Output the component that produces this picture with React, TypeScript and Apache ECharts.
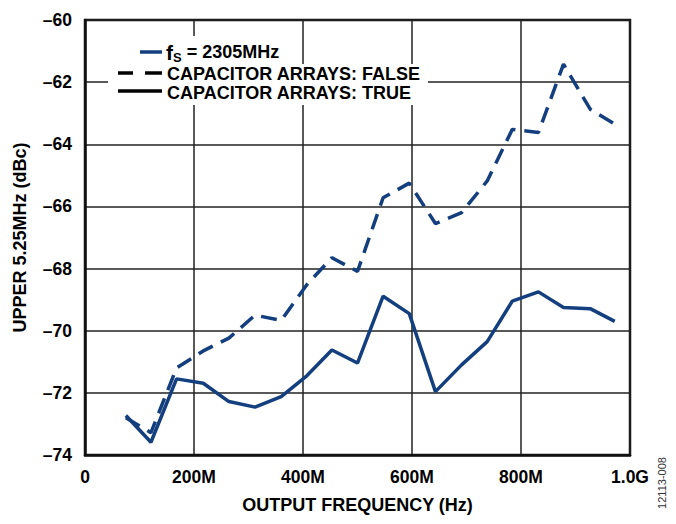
import React, { useEffect, useRef } from "react";
import * as echarts from "echarts";

const freqs = [75, 121, 168, 217, 264, 312, 360, 407, 453, 500, 547, 595, 643, 691, 738, 784, 832, 878, 927, 972];
const capFalse = [-72.8, -73.28, -71.2, -70.65, -70.24, -69.5, -69.67, -68.52, -67.65, -68.09, -65.72, -65.25, -66.55, -66.2, -65.18, -63.52, -63.62, -61.42, -62.87, -63.35];
const capTrue = [-72.73, -73.59, -71.55, -71.69, -72.28, -72.46, -72.12, -71.45, -70.62, -71.04, -68.89, -69.45, -71.96, -71.1, -70.35, -69.05, -68.75, -69.25, -69.29, -69.7];
const xTickLabels: Record<number, string> = { 0: "0", 200: "200M", 400: "400M", 600: "600M", 800: "800M", 1000: "1.0G" };
const legendFs = "2305MHz";
const legendFalse = "CAPACITOR ARRAYS: FALSE";
const legendTrue = "CAPACITOR ARRAYS: TRUE";

const NAVY = "#143f7e";
const FONT = "'Liberation Sans', Arial, sans-serif";

export default function App() {
  const ref = useRef<HTMLDivElement>(null);
  useEffect(() => {
    if (!ref.current) return;
    const chart = echarts.init(ref.current, null, { renderer: "svg" });
    const pair = (ys: number[]) => freqs.map((f, i) => [f, ys[i]]);
    chart.setOption({
      animation: false,
      backgroundColor: "#fff",
      grid: { left: 85, right: 46, top: 20, bottom: 69, show: true, borderColor: "#111", borderWidth: 2.5 },
      xAxis: {
        type: "value",
        min: 0,
        max: 1000,
        interval: 200,
        name: "OUTPUT FREQUENCY (Hz)",
        nameLocation: "middle",
        nameGap: 41,
        nameTextStyle: { fontFamily: FONT, fontWeight: "bold", fontSize: 18, color: "#000" },
        axisLine: { show: true, lineStyle: { color: "#111", width: 2.5 } },
        axisTick: { show: false },
        axisLabel: {
          margin: 13,
          fontFamily: FONT,
          fontWeight: "bold",
          fontSize: 17.5,
          color: "#000",
          formatter: (v: number) => xTickLabels[v] ?? "",
        },
        splitLine: { show: true, lineStyle: { color: "#222", width: 1.5 } },
      },
      yAxis: {
        type: "value",
        min: -74,
        max: -60,
        interval: 2,
        name: "UPPER 5.25MHz (dBc)",
        nameLocation: "middle",
        nameGap: 56,
        nameTextStyle: { fontFamily: FONT, fontWeight: "bold", fontSize: 18, color: "#000" },
        axisLine: { show: true, lineStyle: { color: "#111", width: 2.5 } },
        axisTick: { show: false },
        axisLabel: {
          margin: 13,
          fontFamily: FONT,
          fontWeight: "bold",
          fontSize: 17.5,
          color: "#000",
          formatter: (v: number) => String(v).replace("-", "\u2013"),
        },
        splitLine: { show: true, lineStyle: { color: "#222", width: 1.5 } },
      },
      series: [
        {
          type: "line",
          name: legendFalse,
          data: pair(capFalse),
          showSymbol: false,
          symbol: "none",
          lineStyle: { color: NAVY, width: 3.5, type: [16, 9] },
          z: 3,
        },
        {
          type: "line",
          name: legendTrue,
          data: pair(capTrue),
          showSymbol: false,
          symbol: "none",
          lineStyle: { color: NAVY, width: 3.5, type: "solid" },
          z: 3,
        },
      ],
      graphic: [
        { type: "rect", z: 100, shape: { x: 108, y: 36, width: 180, height: 28 }, style: { fill: "#fff" } },
        { type: "rect", z: 100, shape: { x: 108, y: 64, width: 320, height: 19 }, style: { fill: "#fff" } },
        { type: "rect", z: 100, shape: { x: 108, y: 83, width: 320, height: 22 }, style: { fill: "#fff" } },
        { type: "line", z: 101, shape: { x1: 140, y1: 52, x2: 162, y2: 52 }, style: { stroke: NAVY, lineWidth: 3.5 } },
        { type: "line", z: 101, shape: { x1: 118, y1: 73, x2: 133, y2: 73 }, style: { stroke: "#000", lineWidth: 3.5 } },
        { type: "line", z: 101, shape: { x1: 145, y1: 73, x2: 162, y2: 73 }, style: { stroke: "#000", lineWidth: 3.5 } },
        { type: "line", z: 101, shape: { x1: 118, y1: 91, x2: 162, y2: 91 }, style: { stroke: "#000", lineWidth: 3.5 } },
        {
          type: "text",
          z: 102,
          x: 166,
          y: 52,
          style: {
            text: "{f|f}{s|S}{t| = " + legendFs + "}",
            verticalAlign: "middle",
            align: "left",
            rich: {
              f: { fontFamily: FONT, fontWeight: "bold", fontSize: 21, fill: "#000", verticalAlign: "middle" },
              s: { fontFamily: FONT, fontWeight: "bold", fontSize: 13, fill: "#000", padding: [11, 0, 0, 0], verticalAlign: "middle" },
              t: { fontFamily: FONT, fontWeight: "bold", fontSize: 18, fill: "#000", verticalAlign: "middle" },
            },
          },
        },
        {
          type: "text",
          z: 102,
          x: 167,
          y: 74,
          style: { text: legendFalse, fontFamily: FONT, fontWeight: "bold", fontSize: 18, fill: "#000", verticalAlign: "middle", align: "left" },
        },
        {
          type: "text",
          z: 102,
          x: 167,
          y: 93,
          style: { text: legendTrue, fontFamily: FONT, fontWeight: "bold", fontSize: 18, fill: "#000", verticalAlign: "middle", align: "left" },
        },
        {
          type: "text",
          z: 102,
          x: 662,
          y: 483,
          rotation: Math.PI / 2,
          style: { text: "12113-008", fontFamily: FONT, fontSize: 11, fill: "#333", verticalAlign: "middle", align: "center" },
        },
      ],
    });
    return () => chart.dispose();
  }, []);
  return <div ref={ref} style={{ position: "fixed", left: 0, top: 0, width: 676, height: 524 }} />;
}
